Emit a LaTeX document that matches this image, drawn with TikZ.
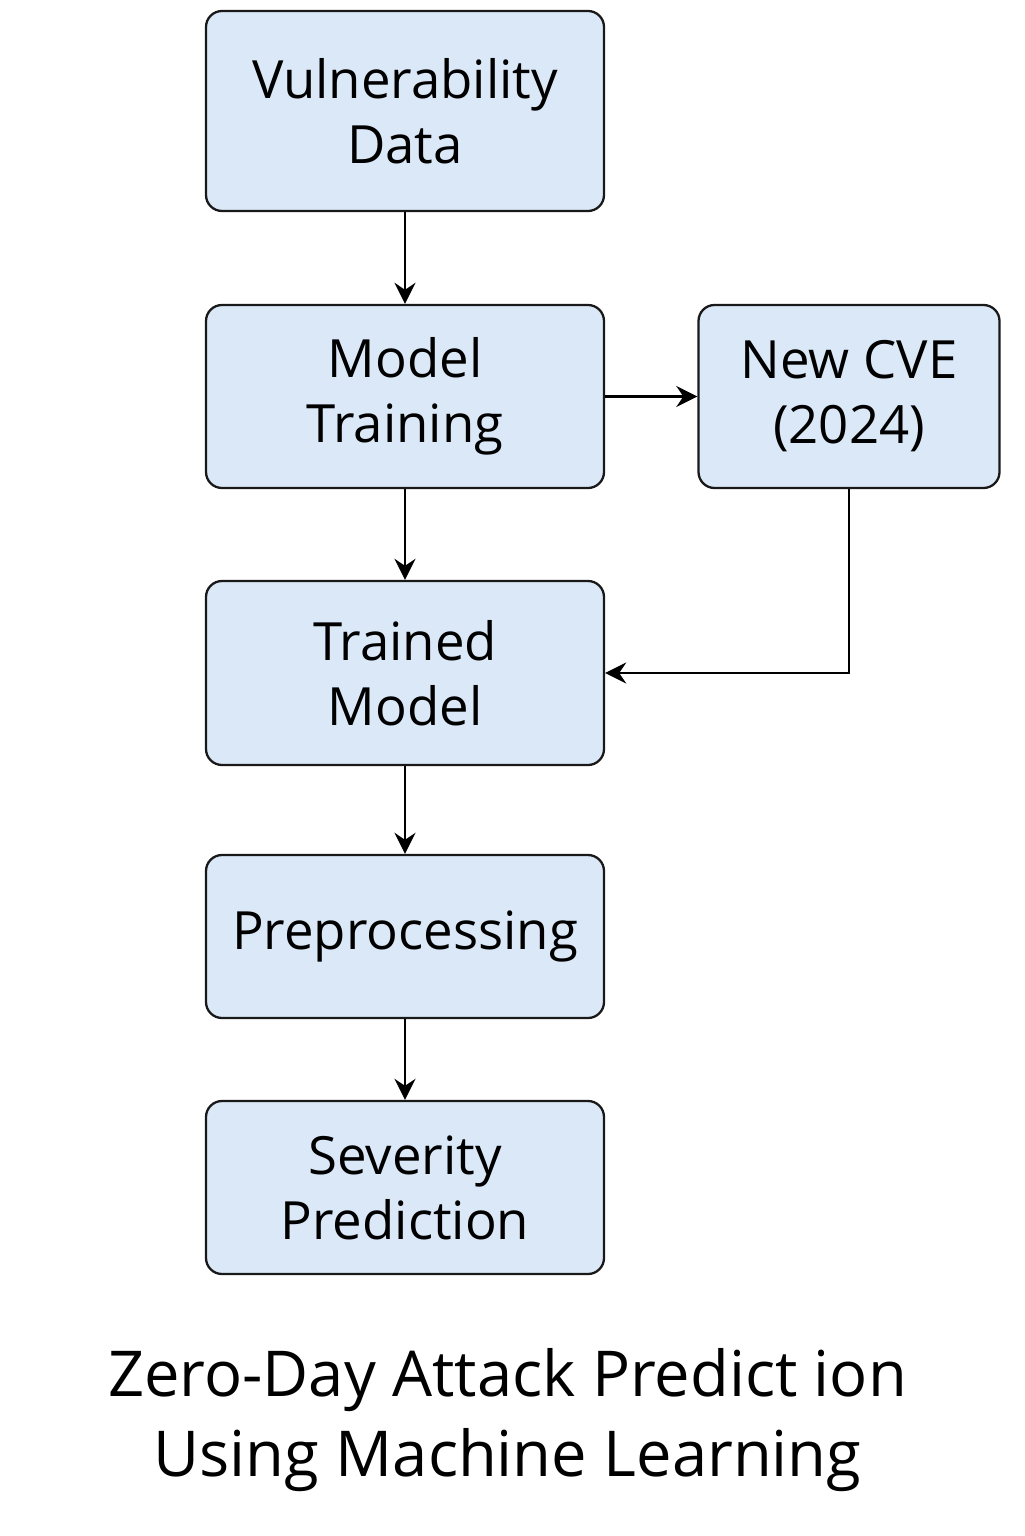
\documentclass[tikz,border=0pt]{standalone}
\usepackage{fontspec}
\setmainfont{Open Sans}
\usetikzlibrary{arrows.meta}
\definecolor{boxblue}{RGB}{218,232,247}
\tikzset{
  stage/.style={draw=black!90, line width=1.3pt, fill=boxblue, rounded corners=0.32cm,
    minimum width=7.96cm, align=center, font=\fontsize{30}{37}\selectfont},
  flow/.style={-{Stealth[length=12pt,width=12pt,inset=4pt]}, line width=1.3pt, black}
}
\begin{document}
\begin{tikzpicture}
      \useasboundingbox (0,0) rectangle (20.48,-30.72);
      \draw
        (8.1,-2.22) node[stage, minimum height=4.0cm] (vuln){Vulnerability\\Data}
        (8.1,-7.93) node[stage, minimum height=3.66cm] (train){Model\\Training}
        (16.98,-7.93) node[stage, minimum height=3.66cm, minimum width=6.02cm] (cve){New CVE\\(2024)}
        (8.1,-13.46) node[stage, minimum height=3.68cm] (trained){Trained\\Model}
        (8.1,-18.73) node[stage, minimum height=3.26cm] (prep){Preprocessing}
        (8.1,-23.75) node[stage, minimum height=3.46cm] (sev){Severity\\Prediction}
        (10.15,-28.4) node[align=center, font=\fontsize{36}{46}\selectfont] (title){Zero-Day Attack Predict ion\\Using Machine Learning};
      \begin{scope}[flow]
        \draw (vuln) to (train);
        \draw (train) to (cve);
        \draw (train) to (trained);
        \draw (cve.south) |- (trained.east);
        \draw (trained) to (prep);
        \draw (prep) to (sev);
      \end{scope}
    \end{tikzpicture}
\end{document}
